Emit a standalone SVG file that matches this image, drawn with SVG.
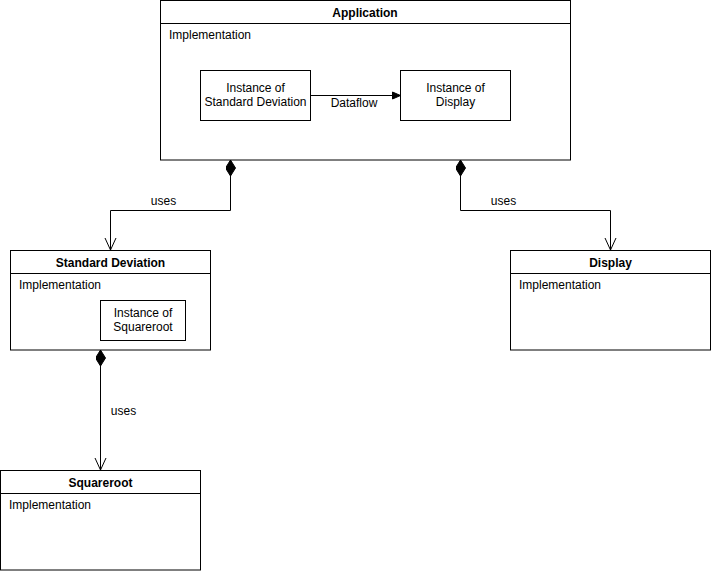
<svg xmlns="http://www.w3.org/2000/svg" width="711" height="572" viewBox="0 0 711 572">
<defs>
<style>
text{font-family:"Liberation Sans",Arial,Helvetica,sans-serif;font-size:12px;fill:#000}
.t{font-weight:bold;text-anchor:middle}
.c{text-anchor:middle}
.box{fill:#fff;stroke:#000;stroke-width:1}
.ln{fill:none;stroke:#000;stroke-width:1}
</style>
<marker id="dia" viewBox="0 0 18 10" markerWidth="18" markerHeight="10" refX="0" refY="5" orient="auto" markerUnits="userSpaceOnUse">
<path d="M0,5 L8,0 L16,5 L8,10 Z" fill="#000" stroke="#000" stroke-width="1"/>
</marker>
<marker id="open" viewBox="0 0 14 14" markerWidth="14" markerHeight="14" refX="13" refY="7" orient="auto" markerUnits="userSpaceOnUse">
<path d="M1,1.5 L13,7 L1,12.5" fill="none" stroke="#000" stroke-width="1"/>
</marker>
<marker id="block" viewBox="0 0 10 10" markerWidth="10" markerHeight="10" refX="9" refY="5" orient="auto" markerUnits="userSpaceOnUse">
<path d="M1,1.5 L9,5 L1,8.5 Z" fill="#000" stroke="#000" stroke-width="1"/>
</marker>
</defs>
<rect width="711" height="572" fill="#fff"/>
<g id="application">
<rect class="box" x="160.5" y="0.5" width="410" height="159.5"/>
<line class="ln" x1="160.5" y1="23.5" x2="570.5" y2="23.5"/>
<text class="t" x="365" y="17">Application</text>
<text x="169" y="39">Implementation</text>
</g>
<g id="inst-stddev">
<rect class="box" x="200.5" y="70.5" width="110" height="50"/>
<text class="c" x="255.5" y="92">Instance of</text>
<text class="c" x="255.5" y="106">Standard Deviation</text>
</g>
<g id="inst-display">
<rect class="box" x="400.5" y="70.5" width="110" height="50"/>
<text class="c" x="455.5" y="92">Instance of</text>
<text class="c" x="455.5" y="106">Display</text>
</g>
<g id="stddev">
<rect class="box" x="10.5" y="250.5" width="200" height="99.5"/>
<line class="ln" x1="10.5" y1="273.5" x2="210.5" y2="273.5"/>
<text class="t" x="110.5" y="267">Standard Deviation</text>
<text x="19" y="289">Implementation</text>
</g>
<g id="inst-sqrt">
<rect class="box" x="100.5" y="300.5" width="85" height="40"/>
<text class="c" x="143" y="317">Instance of</text>
<text class="c" x="143" y="331">Squareroot</text>
</g>
<g id="display">
<rect class="box" x="510.5" y="250.5" width="200" height="99.5"/>
<line class="ln" x1="510.5" y1="273.5" x2="710.5" y2="273.5"/>
<text class="t" x="610.5" y="267">Display</text>
<text x="519" y="289">Implementation</text>
</g>
<g id="squareroot">
<rect class="box" x="0.5" y="470.5" width="200" height="99.5"/>
<line class="ln" x1="0.5" y1="493.5" x2="200.5" y2="493.5"/>
<text class="t" x="100.5" y="487">Squareroot</text>
<text x="9" y="509">Implementation</text>
</g>
<g id="connectors">
<path class="ln" d="M310.5,95.5 L400.5,95.5" marker-end="url(#block)"/>
<text class="c" x="354" y="107" font-size="11px">Dataflow</text>
<path class="ln" d="M230.5,160 L230.5,210.5 L110.5,210.5 L110.5,250" marker-start="url(#dia)" marker-end="url(#open)"/>
<text class="c" x="163.5" y="205" font-size="11px">uses</text>
<path class="ln" d="M460.5,160 L460.5,210.5 L610.5,210.5 L610.5,250" marker-start="url(#dia)" marker-end="url(#open)"/>
<text class="c" x="503.5" y="205" font-size="11px">uses</text>
<path class="ln" d="M100.5,350 L100.5,470" marker-start="url(#dia)" marker-end="url(#open)"/>
<text class="c" x="123.5" y="415" font-size="11px">uses</text>
</g>
</svg>
